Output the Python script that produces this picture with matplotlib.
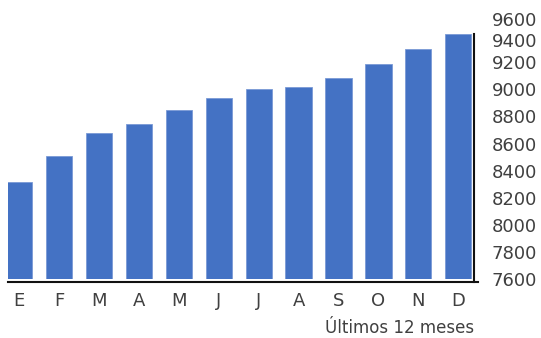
import matplotlib
matplotlib.use("Agg")
import matplotlib.pyplot as plt
import matplotlib.transforms as mtransforms
import numpy as np

# monthly totals, last 12 months
months = ["E", "F", "M", "A", "M", "J", "J", "A", "S", "O", "N", "D"]
values = [8320, 8510, 8675, 8745, 8845, 8935, 9005, 9015, 9085, 9185, 9300, 9405]
y_ticks = [7600, 7800, 8000, 8200, 8400, 8600, 8800, 9000, 9200, 9400, 9600]
x_caption = "Últimos 12 meses"

BAR_COLOR = "#4472C4"
TEXT_COLOR = "#404040"

plt.rcParams["font.family"] = ["DejaVu Sans"]

fig = plt.figure(figsize=(5.41, 3.38), dpi=100)
ax = fig.add_axes([0.0153, 0.1737, 0.8688, 0.803])

x = np.arange(len(months))
ax.bar(x, values, width=0.66, bottom=0, color=BAR_COLOR,
       edgecolor="#7a9ad6", linewidth=0.6)

ax.set_xlim(-0.276, 11.504)
ax.set_ylim(7600, 9600)

ax.set_xticks(x, months)
ax.set_yticks(y_ticks, [str(v) for v in y_ticks])
ax.yaxis.tick_right()
ax.tick_params(axis="y", length=0, pad=12.3, labelsize=13, labelcolor=TEXT_COLOR)
ax.tick_params(axis="x", length=0, pad=7, labelsize=13, labelcolor=TEXT_COLOR)

for side in ("top", "left"):
    ax.spines[side].set_visible(False)
ax.spines["bottom"].set_position(("outward", 2.2))
ax.spines["right"].set_position(("data", 11.404))
ax.spines["right"].set_bounds(7580, max(values))
for side in ("bottom", "right"):
    ax.spines[side].set_linewidth(1.5)
    ax.spines[side].set_color("#111111")

# the two top labels sit a little lower so they stay inside the figure
shifts = {9400: 0.05, 9600: 0.11}
for tick, loc in zip(ax.yaxis.get_major_ticks(), y_ticks):
    if loc in shifts:
        off = mtransforms.ScaledTranslation(0, -shifts[loc], fig.dpi_scale_trans)
        tick.label2.set_transform(tick.label2.get_transform() + off)

fig.text(474 / 541, 0.0296, x_caption, ha="right", va="center",
         fontsize=12, color=TEXT_COLOR)

fig.savefig("out.png", dpi=100)
